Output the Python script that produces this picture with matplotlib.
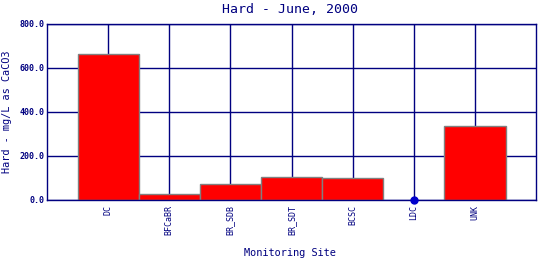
import matplotlib
matplotlib.use("Agg")
import matplotlib.pyplot as plt
import numpy as np

# Hardness by monitoring site, June 2000
sites = ["DC", "BFCaBR", "BR_SDB", "BR_SDT", "BCSC", "LDC", "UNK"]
hardness = [663, 26, 71, 104, 100, 0, 336]
y_ticks = [0, 200, 400, 600, 800]

NAVY = "#000080"


def main():
    plt.rcParams["font.family"] = "DejaVu Sans Mono"
    fig = plt.figure(figsize=(5.4, 2.6), dpi=100)
    # plot area: x 47..536 px, y 24..200 px
    ax = fig.add_axes([0.087, 0.231, 0.906, 0.677])

    x = np.arange(1, len(sites) + 1)
    vals = np.array(hardness, dtype=float)

    # grid first so bars sit on top
    ax.set_axisbelow(True)
    ax.grid(True, color=NAVY, linewidth=1.0)

    has_bar = vals > 0
    ax.bar(x[has_bar], vals[has_bar], width=1.0, color="#ff0000",
           edgecolor="#808080", linewidth=1.0, zorder=2)
    # zero values shown as a dot
    ax.plot(x[~has_bar], vals[~has_bar], "o", color="#0000cc",
            markersize=5, zorder=3, clip_on=False)

    ax.set_xlim(0, len(sites) + 1)
    ax.set_ylim(0, 800)
    ax.set_xticks(x)
    ax.set_xticklabels(sites, rotation=90, fontsize=6, color=NAVY)
    ax.set_yticks(y_ticks)
    ax.set_yticklabels(["%.1f" % v for v in y_ticks], fontsize=6,
                       color=NAVY, fontweight="bold")
    ax.tick_params(axis="y", length=0, pad=2)
    ax.tick_params(axis="x", length=0, pad=4)

    for s in ax.spines.values():
        s.set_color(NAVY)
        s.set_linewidth(1.0)

    fig.text(0.537, 0.965, "Hard - June, 2000", fontsize=9.5, color=NAVY,
             ha="center", va="center")
    ax.set_xlabel("Monitoring Site", fontsize=7.4, color=NAVY)
    ax.set_ylabel("Hard - mg/L as CaCO3", fontsize=7.4, color=NAVY)
    ax.xaxis.set_label_coords(0.497, -0.30)
    ax.yaxis.set_label_coords(-0.081, 0.5)
    ax.xaxis.label.set_va("center")
    ax.yaxis.label.set_va("center")

    fig.savefig("out.png", dpi=100)


if __name__ == "__main__":
    main()
